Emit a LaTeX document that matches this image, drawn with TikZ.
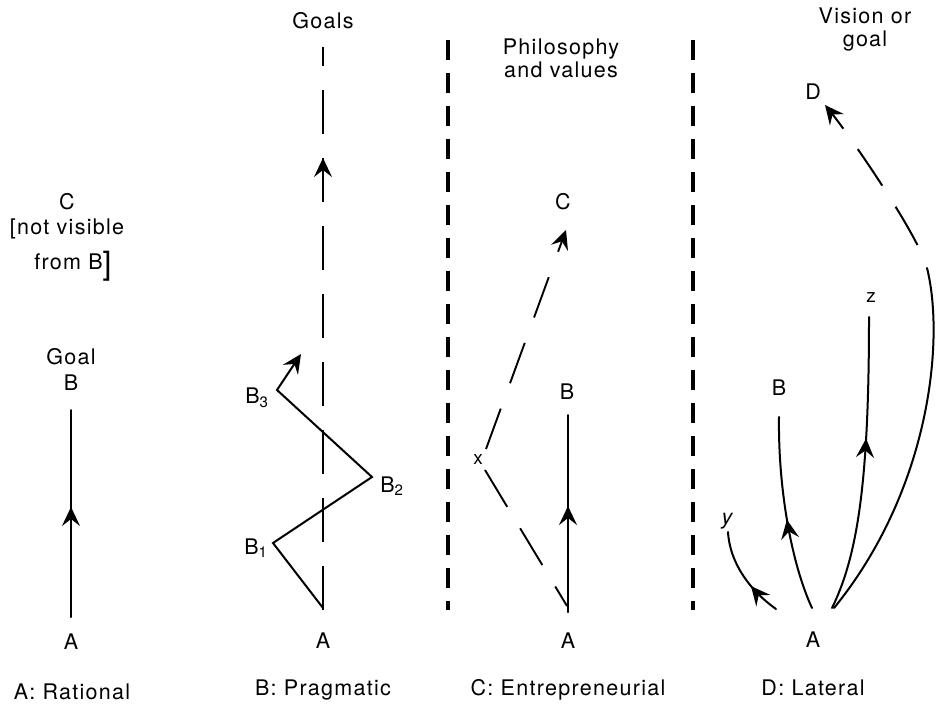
\documentclass[tikz,border=0pt]{standalone}
\usepackage{fontspec}
\setmainfont{TeX Gyre Heros}[LetterSpace=6]
\usetikzlibrary{arrows.meta,decorations.markings}
\tikzset{
  lbl/.style={inner sep=0pt, font=\fontsize{21.5}{23}\selectfont},
  small/.style={inner sep=0pt, font=\fontsize{19}{19}\selectfont},
  solidln/.style={line width=2pt, line cap=round, line join=miter},
  dashln/.style={line width=1.9pt},
  endarrow/.style={-{Stealth[length=19pt,width=18pt,inset=7pt]}},
  midarrow/.style={postaction={decorate},decoration={markings,mark=at position #1 with {\arrow{Stealth[length=19pt,width=18pt,inset=7pt]}}}},
  sepline/.style={line width=3.4pt, dash pattern=on 20pt off 13pt},
}
\begin{document}
\begin{tikzpicture}[x=1pt,y=-1pt]
\useasboundingbox (0,0) rectangle (936,712);
% ---------- Panel A: Rational
\node[lbl] (aC) at (67,202) {C};
\node[lbl] (aNV) at (67,229) {[not visible};
\node[lbl] (aFB) at (73,266) {from B\raisebox{-5pt}{\fontsize{32}{32}\selectfont]}};
\node[lbl] (aGoal) at (71,357) {Goal};
\node[lbl] (aB) at (71,383) {B};
\node[lbl] (aA) at (71,642) {A};
\node[lbl] (aCap) at (72,692) {A: Rational};
\coordinate (aS) at (71,617);
\coordinate (aE) at (71,410);
\draw[solidln, midarrow=110pt] (aS) -- (aE);
% ---------- Panel B: Pragmatic
\node[lbl] (bGoals) at (323,21) {Goals};
\coordinate (bBot) at (323,610);
\coordinate (bTop) at (323,47);
\draw[dashln, dash pattern=on 44pt off 24pt, midarrow=452pt] (bBot) -- (bTop);
\coordinate (bA0) at (323,608);
\coordinate (bB1) at (273,543);
\coordinate (bB2) at (372,477);
\coordinate (bB3) at (277,390);
\coordinate (bEnd) at (301,354);
\draw[solidln, endarrow] (bA0) -- (bB1) -- (bB2) -- (bB3) -- (bEnd);
\node[lbl] (bL1) at (256,548) {B\textsubscript{1}};
\node[lbl] (bL2) at (392,486) {B\textsubscript{2}};
\node[lbl] (bL3) at (257,398) {B\textsubscript{3}};
\node[lbl] (bA) at (323,641) {A};
\node[lbl] (bCap) at (323,690) {B: Pragmatic};
% ---------- separators
\coordinate (s1t) at (448,40);
\coordinate (s1b) at (448,610);
\coordinate (s2t) at (693,40);
\coordinate (s2b) at (693,610);
\draw[sepline] (s1t) -- (s1b);
\draw[sepline] (s2t) -- (s2b);
% ---------- Panel C: Entrepreneurial
\node[lbl, align=center] (cPhil) at (561,58) {Philosophy\\and values};
\node[lbl] (cC) at (563,202) {C};
\node[lbl] (cB) at (567,392) {B};
\node[lbl] (cA) at (568,641) {A};
\node[small] (cx) at (478,460) {x};
\node[lbl] (cCap) at (568,690) {C: Entrepreneurial};
\coordinate (cxU) at (486,449);
\coordinate (cCtip) at (566,230);
\draw[dashln, dash pattern=on 43pt off 27pt, endarrow] (cxU) -- (cCtip);
\coordinate (cxD) at (485,470);
\coordinate (cAend) at (567,606);
\draw[dashln, dash pattern=on 43pt off 25pt] (cxD) -- (cAend);
\coordinate (cBs) at (568,612);
\coordinate (cBe) at (568,415);
\draw[solidln, midarrow=106pt] (cBs) -- (cBe);
% ---------- Panel D: Lateral
\node[lbl, align=center] (dVis) at (865,30) {Vision or\\goal};
\node[lbl] (dD) at (813,92) {D};
\node[small] (dz) at (871,298) {z};
\node[lbl] (dB) at (779,388) {B};
\node[lbl] (dy) at (727,521) {\itshape y};
\node[lbl] (dA) at (813,640) {A};
\node[lbl] (dCap) at (813,688) {D: Lateral};
% y
\coordinate (dyS) at (776,609);
\coordinate (dyE) at (728,532);
\draw[solidln, midarrow=34pt] (dyS) .. controls (752,592) and (730,565) .. (dyE);
% B
\coordinate (dBS) at (812,608);
\coordinate (dBE) at (779,417);
\draw[solidln, midarrow=92pt] (dBS) .. controls (792,565) and (778,490) .. (dBE);
% z
\coordinate (dzS) at (832,608);
\coordinate (dzE) at (869,317);
\draw[solidln, midarrow=174pt] (dzS) .. controls (858,555) and (869,480) .. (dzE);
% outer arc
\coordinate (doS) at (834,608);
\coordinate (doM) at (927,268);
\coordinate (doE) at (825,105);
\draw[solidln] (doS) .. controls (930,490) and (945,340) .. (doM);
\draw[dashln, line width=2pt, dash pattern=on 44pt off 25pt, dash phase=44pt, endarrow] (doM) .. controls (919,236) and (850,136) .. (doE);
\end{tikzpicture}
\end{document}
